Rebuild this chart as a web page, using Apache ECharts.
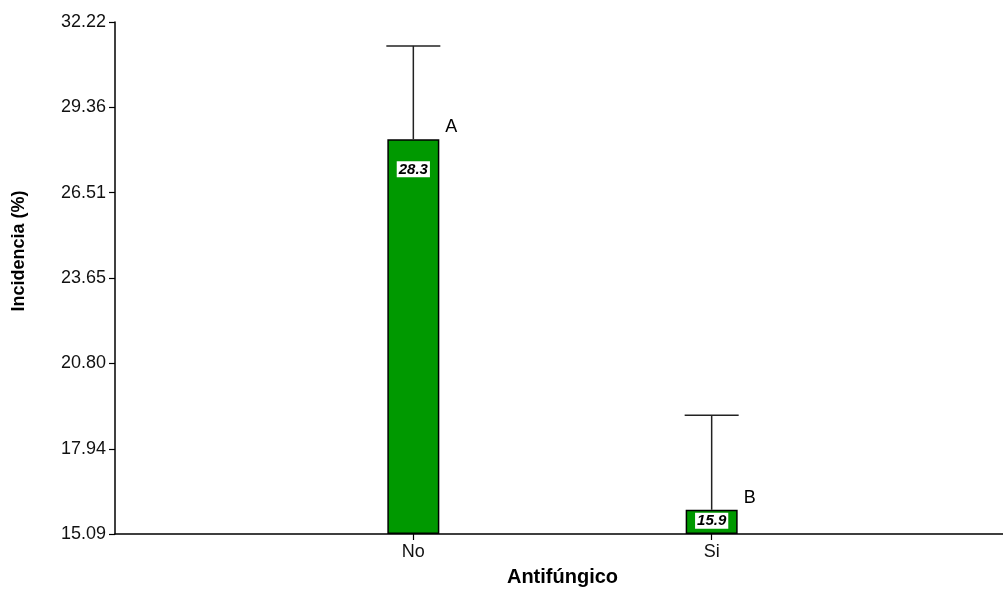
<!DOCTYPE html>
<html>
<head>
<meta charset="utf-8">
<title>Incidencia (%) según antifúngico</title>
<script src="https://cdn.jsdelivr.net/npm/echarts@6/dist/echarts.min.js"></script>
<style>
  html, body { margin: 0; padding: 0; background: #ffffff; overflow: hidden; }
  #chart { width: 1003px; height: 590px; }
</style>
</head>
<body>
<div id="chart"></div>
<script>
// Treatment groups and their mean incidence, upper error limit and significance letter
const categories = ['No', 'Si'];
const means = [28.3, 15.9];
const upperLimits = [31.42, 19.06];
const letters = ['A', 'B'];
const yTickLabels = ['15.09', '17.94', '20.80', '23.65', '26.51', '29.36', '32.22'];

const FONT = "'Liberation Sans', Arial, Helvetica, sans-serif";
const BAR_WIDTH = 52;

// Category axis with empty slots at both ends so the two groups sit at 1/3 and 2/3
const axisCats = [''].concat(categories, ['']);
const barData = [null].concat(means.map((v, i) => ({
  value: v,
  label: {
    position: 'insideTop',
    distance: i === 0 ? 22 : 3
  }
})), [null]);
const errData = categories.map((c, i) => [i + 1, means[i], upperLimits[i], letters[i]]);

const yMin = Number(yTickLabels[0]);
const yMax = Number(yTickLabels[yTickLabels.length - 1]);
const yTicks = yTickLabels.map(Number);

const chart = echarts.init(document.getElementById('chart'), null, { renderer: 'canvas' });

chart.setOption({
  animation: false,
  backgroundColor: '#ffffff',
  grid: {
    left: 115, width: 895, top: 22, height: 512,
    containLabel: false,
    outerBoundsMode: 'none'
  },
  xAxis: {
    type: 'category',
    data: axisCats,
    boundaryGap: false,
    name: 'Antifúngico',
    nameLocation: 'middle',
    nameGap: 33,
    nameTextStyle: { fontFamily: FONT, fontWeight: 'bold', fontSize: 20, color: '#000' },
    axisLine: { lineStyle: { color: '#000', width: 1.5 } },
    axisTick: {
      show: true,
      length: 6,
      interval: (idx, val) => val !== '',
      lineStyle: { color: '#000', width: 1.2 }
    },
    axisLabel: {
      interval: 0,
      margin: 9,
      fontFamily: FONT,
      fontSize: 18,
      color: '#111'
    },
    splitLine: { show: false }
  },
  yAxis: {
    type: 'value',
    min: yMin,
    max: yMax,
    startValue: yMin,
    axisLine: { show: true, lineStyle: { color: '#000', width: 1.5 } },
    axisTick: {
      show: true,
      length: 6,
      customValues: yTicks,
      lineStyle: { color: '#000', width: 1.2 }
    },
    axisLabel: {
      customValues: yTicks,
      margin: 9,
      fontFamily: FONT,
      fontSize: 18,
      color: '#111',
      formatter: v => v.toFixed(2)
    },
    splitLine: { show: false }
  },
  graphic: [{
    type: 'text',
    x: 19,
    y: 251,
    rotation: Math.PI / 2,
    style: {
      text: 'Incidencia (%)',
      fontFamily: FONT,
      fontWeight: 'bold',
      fontSize: 18,
      fill: '#000',
      align: 'center',
      verticalAlign: 'middle'
    }
  }],
  series: [
    {
      type: 'bar',
      data: barData,
      barWidth: BAR_WIDTH,
      itemStyle: { color: '#009900', borderColor: '#000', borderWidth: 1.5 },
      label: {
        show: true,
        formatter: p => p.value.toFixed(1),
        fontFamily: FONT,
        fontWeight: 'bold',
        fontStyle: 'italic',
        fontSize: 15,
        color: '#000',
        backgroundColor: '#ffffff',
        padding: [1, 2, 0, 2]
      },
      z: 2
    },
    {
      type: 'custom',
      data: errData,
      z: 3,
      renderItem: function (params, api) {
        const x = api.value(0);
        const base = api.coord([x, api.value(1)]);
        const top = api.coord([x, api.value(2)]);
        const half = BAR_WIDTH / 2 + 1;
        const stroke = { stroke: '#222', lineWidth: 1.5 };
        return {
          type: 'group',
          children: [
            { type: 'line', shape: { x1: top[0], y1: base[1], x2: top[0], y2: top[1] }, style: stroke },
            { type: 'line', shape: { x1: top[0] - half, y1: top[1], x2: top[0] + half, y2: top[1] }, style: stroke },
            {
              type: 'text',
              x: base[0] + BAR_WIDTH / 2 + 6,
              y: base[1] - 3,
              style: {
                text: api.value(3),
                fontFamily: FONT,
                fontSize: 18,
                fill: '#000',
                align: 'left',
                verticalAlign: 'bottom'
              }
            }
          ]
        };
      }
    }
  ]
});
</script>
</body>
</html>
